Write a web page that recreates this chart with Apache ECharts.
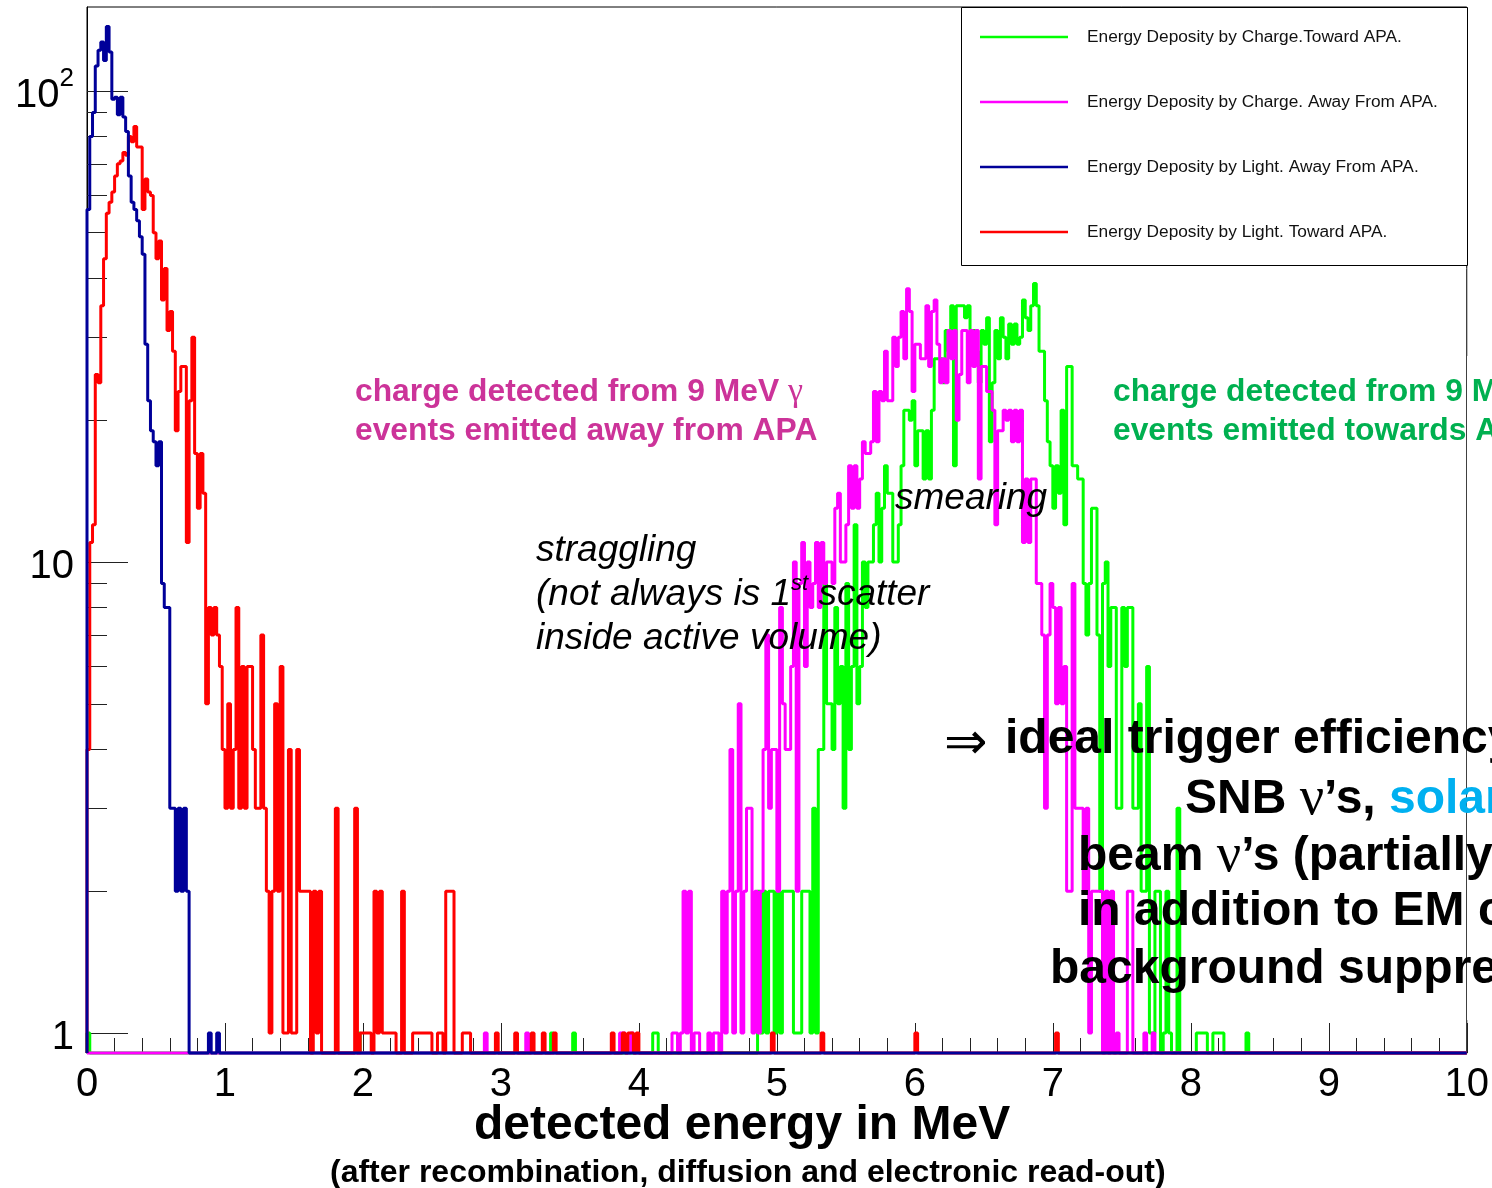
<!DOCTYPE html>
<html><head><meta charset="utf-8">
<script src="https://cdn.jsdelivr.net/npm/echarts@6/dist/echarts.min.js"></script>
<style>html,body{margin:0;padding:0;background:#fff}#c{width:1492px;height:1188px}</style>
</head><body><div id="c"></div>
<script>
// ---------- data ----------
const BIN_WIDTH = 0.02;          // MeV per bin
const N_BINS = 500;              // 0 .. 10 MeV
const xTickValues = [0,1,2,3,4,5,6,7,8,9,10];
const yMajorTicks = [1, 10, 100];
const yMinorTicks = [2,3,4,5,6,7,8,9,20,30,40,50,60,70,80,90];
const Y_MIN = 0.907, Y_MAX = 150.7;

const seriesNames = [
  'Energy Deposity by Charge.Toward APA.',
  'Energy Deposity by Charge. Away From APA.',
  'Energy Deposity by Light. Away From APA.',
  'Energy Deposity by Light. Toward APA.'
];

// Light, away from APA (blue) : bins from 0 MeV
const lightAwayStart = 0.00;
const lightAwayCounts = [56,80,90,113,122,127,116,137,121,96,97,89,97,88,82,66,58,56,53,49,
  45,29,22,19,18,16,18,9,8,8,3,3,2,3,2,3,2,0,0,0,0,0,0,0,1,0,0,1];
const lightAwaySingles = [];

// Light, toward APA (red)
const lightTowardStart = 0.00;
const lightTowardCounts = [4,11,12,25,24,35,44,55,58,61,66,70,71,74,73,80,78,84,76,76,
  56,65,61,60,50,44,48,36,42,31,34,28,19,23,26,26,11,22,30,17,
  13,17,14,5,8,7,8,7,6,4,3,5,3,4,8,3,6,3,6,6,
  4,3,3,7,3,2,1,2,5,2,6,1,1,4,1,1,4,2,2,2,
  2,0,2,1,2,0,0,0,0,0,3,0,0,0,0,0,0,3,0,1,
  1,1,1,0,2,1,2,1,1,1,1,1,0,0,2,0,0,0,1,1,
  1,1,1,1,1,0,0,1,1,0,2,2,2,0,0,0,1,1,1,0];
const lightTowardSingles = [2.96,3.10,3.22,3.30,3.38,3.80,3.88,3.92,3.94,3.98,4.96,5.32,6.00,7.02];

// Charge, away from APA (magenta)
const chargeAwayStart = 4.10;
const chargeAwayCounts = [0,0,0,0,0,0,0,1,1,0,1,2,1,2,0,1,1,0,0,0,
  1,0,1,1,0,2,1,2,4,1,2,5,1,2,3,3,1,2,1,2,
  4,7,3,4,4,2,8,5,4,4,6,10,2,9,11,6,10,8,9,11,
  8,11,9,10,10,9,13,14,10,10,12,16,13,16,13,15,18,17,17,18,
  23,18,23,22,28,22,22,30,26,30,34,27,38,34,23,29,29,27,27,35,
  26,34,36,29,24,27,24,31,27,31,20,25,31,31,24,31,26,31,15,26,
  26,23,23,21,12,19,19,21,20,21,18,21,18,21,11,15,11,15,15,9,
  9,7,3,7,9,8,5,8,5,6,2,2,9,3,3,3,2,3,1,2,
  2,2,2,0,2,0,2,0,1,0,0,0,2,2,0,0,0,0,1,0,0,1];
const chargeAwaySingles = [2.88,3.18,3.86,3.88,3.94];

// Charge, toward APA (green)
const chargeTowardStart = 4.86;
const chargeTowardCounts = [2,1,2,1,2,2,1,2,1,2,2,2,2,1,1,1,2,2,2,1,
  3,1,4,4,9,5,5,4,8,5,6,3,9,4,6,12,5,6,10,8,
  10,10,12,14,10,13,16,14,14,10,10,12,16,21,21,20,22,16,19,19,
  15,19,15,21,27,27,27,24,31,28,35,16,35,35,35,33,35,31,31,28,
  24,31,29,33,18,24,31,27,33,30,27,32,29,32,29,30,36,33,31,35,
  39,35,28,28,22,18,16,13,16,14,21,12,26,26,16,16,15,15,9,7,
  9,13,13,7,2,9,10,6,8,8,3,3,8,6,8,8,3,3,5,2,
  2,6,1,1,2,2,0,1,2,1,0,0,3,0];
const chargeTowardSingles = [0.00,1.96,3.36,3.52,4.10,4.12,8.04,8.06,8.08,8.10,8.16,8.18,8.20,8.22,8.40];

// ---------- build histograms ----------
function buildBins(start, counts, singles) {
  const bins = new Array(N_BINS).fill(0);
  const s = Math.round(start / BIN_WIDTH);
  counts.forEach((c, i) => { if (s + i < N_BINS) bins[s + i] = c; });
  singles.forEach(e => { const k = Math.round(e / BIN_WIDTH); if (k < N_BINS) bins[k] = Math.max(bins[k], 1); });
  return bins;
}
function stepPoints(bins) {
  const pts = [[0, Y_MIN]];
  bins.forEach((c, k) => {
    const v = c > 0 ? c : Y_MIN;
    pts.push([+(k * BIN_WIDTH).toFixed(4), v], [+((k + 1) * BIN_WIDTH).toFixed(4), v]);
  });
  pts.push([N_BINS * BIN_WIDTH, Y_MIN]);
  return pts;
}
const hGreen = buildBins(chargeTowardStart, chargeTowardCounts, chargeTowardSingles);
const hMagenta = buildBins(chargeAwayStart, chargeAwayCounts, chargeAwaySingles);
const hBlue = buildBins(lightAwayStart, lightAwayCounts, lightAwaySingles);
const hRed = buildBins(lightTowardStart, lightTowardCounts, lightTowardSingles);

const FONT = 'Liberation Sans';
function histSeries(name, color, bins, z) {
  return {
    name, type: 'line', data: stepPoints(bins), showSymbol: false, symbol: 'none',
    clip: false, z, lineStyle: { color, width: 3 }, itemStyle: { color },
    emphasis: { disabled: true }, silent: true, animation: false
  };
}

const chart = echarts.init(document.getElementById('c'), null, { renderer: 'canvas' });
const option = {
  animation: false,
  backgroundColor: '#fff',
  grid: { left: 87, right: 24, top: 7, bottom: 135, show: true, borderColor: '#000', borderWidth: 1, backgroundColor: 'transparent', containLabel: false },
  xAxis: {
    type: 'value', min: 0, max: 10, interval: 1,
    axisLine: { show: true, onZero: false, lineStyle: { color: '#000', width: 1 } },
    axisTick: { show: true, inside: true, length: 30, lineStyle: { color: '#222', width: 1 } },
    minorTick: { show: true, splitNumber: 5, length: 15, lineStyle: { color: '#222', width: 1 } },
    axisLabel: { fontSize: 40, color: '#000', fontFamily: FONT, margin: 12, showMinLabel: true, showMaxLabel: true,
      customValues: xTickValues },
    splitLine: { show: false }, minorSplitLine: { show: false }
  },
  yAxis: [
    {
      type: 'log', logBase: 10, min: Y_MIN, max: Y_MAX,
      axisLine: { show: true, lineStyle: { color: '#000', width: 1 } },
      axisTick: { show: true, inside: true, length: 41, customValues: yMajorTicks, lineStyle: { color: '#222', width: 1 } },
      axisLabel: {
        customValues: yMajorTicks, margin: 13, color: '#000',
        formatter: v => (Math.abs(v - 100) < 1e-6 ? '{b|10}{s|2}' : '{b|' + Math.round(v) + '}'),
        rich: {
          b: { fontSize: 40, fontFamily: FONT, color: '#000', lineHeight: 50, verticalAlign: 'bottom' },
          s: { fontSize: 26, fontFamily: FONT, color: '#000', lineHeight: 26, verticalAlign: 'top' }
        }
      },
      splitLine: { show: false }
    },
    {
      type: 'log', logBase: 10, min: Y_MIN, max: Y_MAX, position: 'left',
      axisLine: { show: false },
      axisTick: { show: true, inside: true, length: 20, customValues: yMinorTicks, lineStyle: { color: '#222', width: 1 } },
      axisLabel: { show: false },
      splitLine: { show: false }
    }
  ],
  legend: {
    left: 980, top: 27, orient: 'vertical', itemWidth: 88, itemHeight: 2.5, itemGap: 45, icon: 'rect',
    padding: 0, selectedMode: false, z: 6,
    textStyle: { fontSize: 17.3, fontFamily: FONT, color: '#111', padding: [0, 0, 0, 14], lineHeight: 20 },
    data: seriesNames
  },
  series: [
    histSeries(seriesNames[0], '#00ff00', hGreen, 2),
    histSeries(seriesNames[1], '#ff00ff', hMagenta, 3),
    histSeries(seriesNames[3], '#ff0000', hRed, 4),
    histSeries(seriesNames[2], '#000099', hBlue, 5)
  ],
  graphic: [
    { type: 'rect', z: 5, shape: { x: 961.5, y: 7.5, width: 506, height: 258 }, style: { fill: '#fff', stroke: '#000', lineWidth: 1 } },
    // white area that hides the frame's right edge below the legend region
    { type: 'rect', z: 6, shape: { x: 1467, y: 356, width: 25, height: 664 }, style: { fill: '#fff' } },
    // magenta annotation
    { type: 'text', z: 7, left: 355, top: 373, style: { text: 'charge detected from 9 MeV {g|γ}\nevents emitted away from APA', fill: '#cc3399',
      font: 'bold 31.8px "Liberation Sans"', lineHeight: 39,
      rich: { g: { fontFamily: 'Liberation Serif', fontSize: 34, fontWeight: 'normal', fill: '#cc3399', lineHeight: 39 } } } },
    // green annotation
    { type: 'text', z: 7, left: 1113, top: 373, style: { text: 'charge detected from 9 MeV {g|γ}\nevents emitted towards APA', fill: '#00b050',
      font: 'bold 31.8px "Liberation Sans"', lineHeight: 39,
      rich: { g: { fontFamily: 'Liberation Serif', fontSize: 34, fontWeight: 'normal', fill: '#00b050', lineHeight: 39 } } } },
    // smearing
    { type: 'text', z: 7, left: 895, top: 480, style: { text: 'smearing', fill: '#000', font: 'italic 37px "Liberation Sans"' } },
    // straggling
    { type: 'text', z: 7, left: 536, top: 532, style: {
      text: '{n|straggling}\n{n|(not always is 1}{s|st}{n| scatter}\n{n|inside active volume)}',
      rich: {
        n: { fontFamily: FONT, fontStyle: 'italic', fontSize: 37, lineHeight: 44, fill: '#000', verticalAlign: 'bottom' },
        s: { fontFamily: FONT, fontStyle: 'italic', fontSize: 22, lineHeight: 44, fill: '#000', verticalAlign: 'top', padding: [4, 0, 0, 0] }
      } } },
    // conclusion block
    { type: 'text', z: 7, left: 944, top: 719, style: { text: '⇒', fill: '#000', font: 'normal 52px "DejaVu Sans"' } },
    { type: 'text', z: 7, left: 1005, top: 716, style: { text: 'ideal trigger efficiency for', fill: '#000', font: 'bold 48px "Liberation Sans"' } },
    { type: 'text', z: 7, left: 1185, top: 773, style: {
      text: '{k|SNB }{v|ν}{k|\u2019s, }{c|solar }{v|ν}{c|\u2019s}',
      rich: {
        k: { fontFamily: FONT, fontWeight: 'bold', fontSize: 48, fill: '#000' },
        c: { fontFamily: FONT, fontWeight: 'bold', fontSize: 48, fill: '#00b0f0' },
        v: { fontFamily: 'Liberation Serif', fontWeight: 'normal', fontSize: 54, fill: '#000' }
      } } },
    { type: 'text', z: 7, left: 1078, top: 830, style: {
      text: '{k|beam }{v|ν}{k|\u2019s (partially)}',
      rich: {
        k: { fontFamily: FONT, fontWeight: 'bold', fontSize: 48, fill: '#000' },
        v: { fontFamily: 'Liberation Serif', fontWeight: 'normal', fontSize: 54, fill: '#000' }
      } } },
    { type: 'text', z: 7, left: 1078, top: 888, style: { text: 'in addition to EM cascades', fill: '#000', font: 'bold 48px "Liberation Sans"' } },
    { type: 'text', z: 7, left: 1050, top: 946, style: { text: 'background suppression', fill: '#000', font: 'bold 48px "Liberation Sans"' } },
    // axis titles
    { type: 'text', z: 7, left: 474, top: 1102, style: { text: 'detected energy in MeV', fill: '#000', font: 'bold 48px "Liberation Sans"' } },
    { type: 'text', z: 7, left: 330, top: 1157, style: { text: '(after recombination, diffusion and electronic read-out)', fill: '#000', font: 'bold 32px "Liberation Sans"' } }
  ]
};
chart.setOption(option);
</script></body></html>
